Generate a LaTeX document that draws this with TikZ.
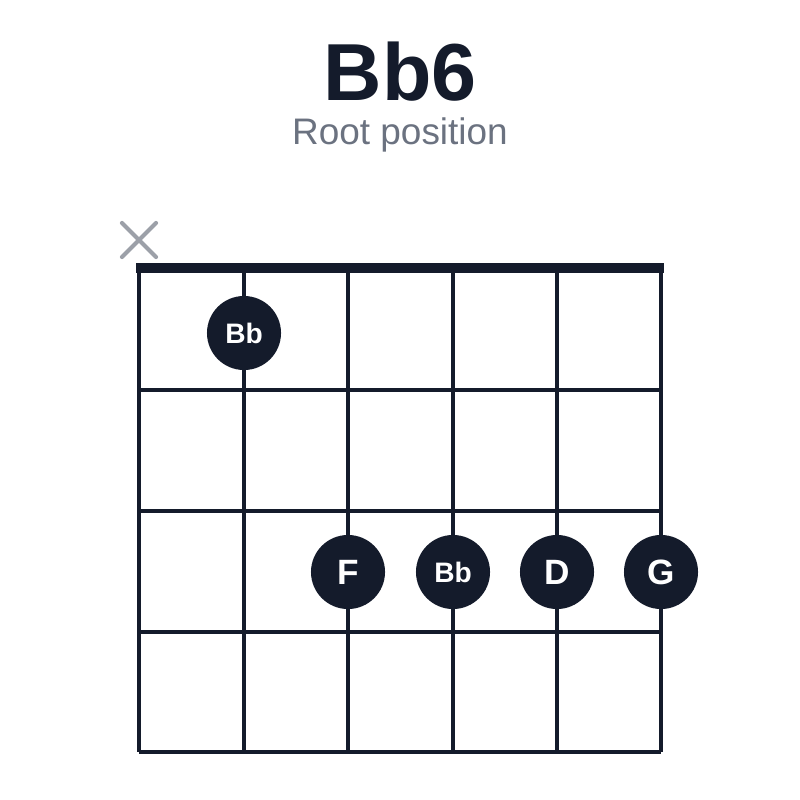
\documentclass[tikz,border=0pt]{standalone}
\usepackage{fontspec}
\setmainfont{Liberation Sans}
\usetikzlibrary{positioning}
\definecolor{ink}{HTML}{141B2B}
\definecolor{mute}{HTML}{6B7280}
\definecolor{xgray}{HTML}{9CA0A8}
\begin{document}
\begin{tikzpicture}[x=0.01cm,y=-0.01cm,
  dot/.style={circle,fill=ink,text=white,minimum size=0.74cm,inner sep=0pt,font=\bfseries}]
\useasboundingbox (0,0) rectangle (800,800);
\node[text=ink,font=\fontsize{23}{26}\selectfont\bfseries] (title) at (400,72) {Bb6};
\node[text=mute,font=\fontsize{10.5}{12}\selectfont] (sub) at (400,135) {Root position};
% strings
\foreach \x in {139,244,348,453,557,661}
  \draw[ink,line width=0.9pt] (\x,268) -- (\x,752);
% frets
\foreach \y in {390,511,632,752}
  \draw[ink,line width=0.9pt] (139,\y) -- (661,\y);
\draw[ink,line width=2.9pt] (136,268) -- (664,268);
% muted string
\draw[xgray,line width=1.2pt,line cap=round] (122,223) -- (156,257) (122,257) -- (156,223);
% fingers
\node[dot,font=\fontsize{8}{9}\selectfont\bfseries] (bb1) at (244,333) {Bb};
\node[dot,font=\fontsize{10}{12}\selectfont\bfseries] (f) at (348,572) {F};
\node[dot,font=\fontsize{8}{9}\selectfont\bfseries] (bb2) at (453,572) {Bb};
\node[dot,font=\fontsize{10}{12}\selectfont\bfseries] (d) at (557,572) {D};
\node[dot,font=\fontsize{10}{12}\selectfont\bfseries] (g) at (661,572) {G};
\end{tikzpicture}
\end{document}
